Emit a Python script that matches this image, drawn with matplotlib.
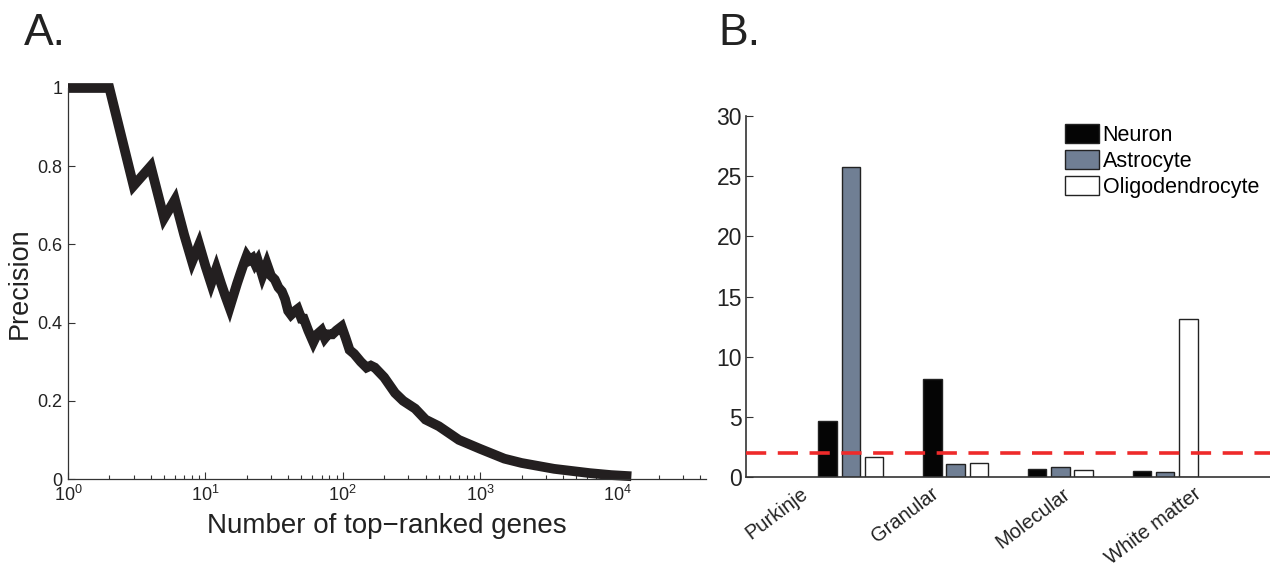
import matplotlib
matplotlib.use('Agg')
import matplotlib.pyplot as plt
import numpy as np

plt.rcParams['font.family'] = ['Liberation Sans', 'DejaVu Sans']
plt.rcParams['mathtext.fontset'] = 'custom'
plt.rcParams['mathtext.rm'] = 'Liberation Sans'
plt.rcParams['mathtext.it'] = 'Liberation Sans:italic'

# panel A: precision vs number of top-ranked genes
n_genes = [1, 2, 3, 4, 5, 6, 7, 8, 9, 10, 11, 12, 13, 14, 15, 16, 17, 18, 19, 20,
           21, 22, 23, 24, 25, 26, 27, 28, 30, 32, 34, 36, 38, 40, 42, 45, 47, 50,
           52, 56, 61, 65, 70, 74, 78, 84, 90, 98, 105, 112, 121, 135, 149, 160,
           171, 200, 240, 275, 336, 400, 500, 700, 1000, 1500, 2000, 3450, 6300,
           9000, 12600]
precision = [1.0, 1.0, 0.75, 0.80, 0.667, 0.714, 0.625, 0.556, 0.60, 0.545, 0.50,
             0.538, 0.50, 0.467, 0.438, 0.47, 0.50, 0.526, 0.55, 0.571,
             0.56, 0.565, 0.55, 0.56, 0.54, 0.52, 0.535, 0.55, 0.52, 0.51, 0.49,
             0.48, 0.46, 0.43, 0.42, 0.43, 0.435, 0.41, 0.41, 0.38, 0.35, 0.37,
             0.38, 0.36, 0.37, 0.37, 0.38, 0.39, 0.36, 0.33, 0.32, 0.30, 0.285,
             0.29, 0.285, 0.26, 0.22, 0.20, 0.18, 0.152, 0.135, 0.10, 0.077,
             0.052, 0.041, 0.026, 0.015, 0.010, 0.007]

# panel B: enrichment per layer
layers = ['Purkinje', 'Granular', 'Molecular', 'White matter']
cell_types = ['Neuron', 'Astrocyte', 'Oligodendrocyte']
neuron = [4.66, 8.18, 0.63, 0.50]
astrocyte = [25.75, 1.05, 0.85, 0.44]
oligo = [1.68, 1.13, 0.61, 13.17]
threshold = 2.0

fig = plt.figure(figsize=(12.7, 5.67), dpi=100)

# ---- A ----
ax1 = fig.add_axes([68/1270, 1-479/567, (706-68)/1270, (479-88)/567])
ax1.semilogx(n_genes, precision, color='#231f20', lw=7, clip_on=False,
             solid_joinstyle='miter', solid_capstyle='butt')
ax1.set_xlim(1, 4.4e4)
ax1.set_ylim(0, 1)
ax1.set_yticks([0, 0.2, 0.4, 0.6, 0.8, 1])
ax1.set_yticklabels(['0', '0.2', '0.4', '0.6', '0.8', '1'])
ax1.spines['top'].set_visible(False)
ax1.spines['right'].set_visible(False)
for s in ['left', 'bottom']:
    ax1.spines[s].set_linewidth(0.9)
    ax1.spines[s].set_color('#333333')
ax1.tick_params(which='both', direction='in', labelsize=13, colors='#333333',
                labelcolor='#222222', width=0.8)
ax1.tick_params(which='major', length=5, pad=4)
ax1.tick_params(which='minor', length=3)
ax1.set_xlabel('Number of top\u2212ranked genes', fontsize=20, labelpad=6, color='#222222')
ax1.set_ylabel('Precision', fontsize=19.5, color='#222222')
ax1.yaxis.set_label_coords(-0.056, 0.5)

# ---- B ----
ax2 = fig.add_axes([746/1270, 1-477/567, (1270-746)/1270, (477-116)/567])
x = np.arange(1, len(layers) + 1)
w = 0.175
off = 0.222
ax2.bar(x - off, neuron, w, color='#050505', edgecolor='#222222', lw=1, label=cell_types[0])
ax2.bar(x, astrocyte, w, color='#707f94', edgecolor='#222222', lw=1, label=cell_types[1])
ax2.bar(x + off, oligo, w, color='white', edgecolor='#222222', lw=1, label=cell_types[2])
ax2.axhline(threshold, color='#ee2a2a', lw=2.6, dashes=(5.6, 3.2), zorder=5)
ax2.set_xlim(0, 5)
ax2.set_ylim(0, 30)
ax2.set_yticks([0, 5, 10, 15, 20, 25, 30])
ax2.set_xticks([])
ax2.spines['top'].set_visible(False)
ax2.spines['right'].set_visible(False)
for s in ['left', 'bottom']:
    ax2.spines[s].set_linewidth(1.2)
    ax2.spines[s].set_color('#333333')
ax2.tick_params(axis='y', direction='in', labelsize=16.5, length=5, pad=3,
                colors='#333333', labelcolor='#222222')
# category labels sit left of the first groups and right of the last ones
label_x = [0.62, 1.87, 3.13, 4.38]
for lx, name in zip(label_x, layers):
    ax2.text(lx, -0.02, name, transform=ax2.get_xaxis_transform(),
             rotation=37, ha='right', va='top', fontsize=14.5, color='#222222')

ax2.legend(loc='upper left', bbox_to_anchor=(1065/1270, 1-124/567),
           bbox_transform=fig.transFigure, frameon=False, fontsize=15.5,
           handlelength=1.6, handleheight=0.95, handletextpad=0.15,
           labelspacing=0.2, borderpad=0, borderaxespad=0)

fig.text(24/1270, 1-45/567, 'A.', fontsize=32, va='baseline', color='#222222')
fig.text(718/1270, 1-45/567, 'B.', fontsize=32, va='baseline', color='#222222')

fig.savefig('out.png', dpi=100)
